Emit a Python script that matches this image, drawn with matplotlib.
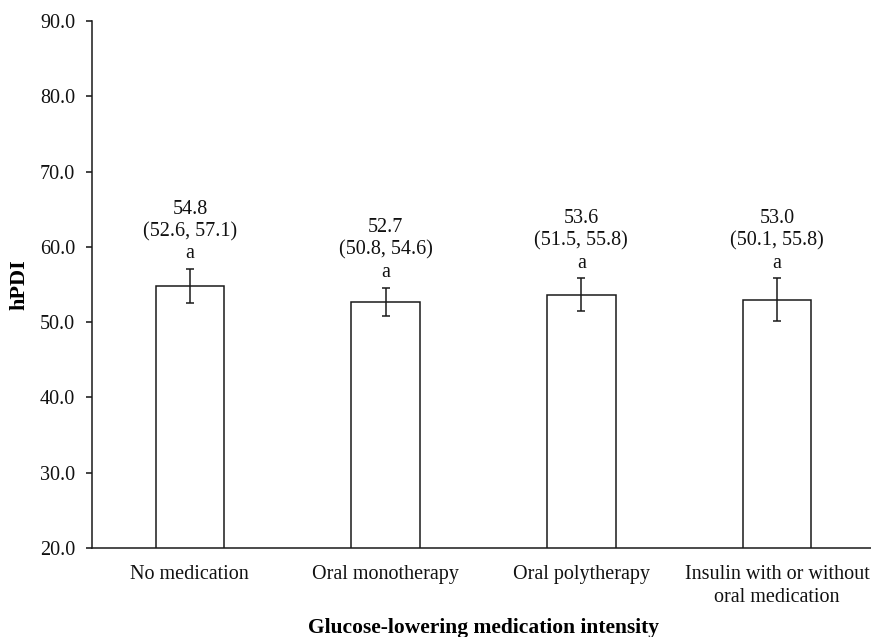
import numpy as np
import matplotlib
matplotlib.use('Agg')
import matplotlib.pyplot as plt

categories = ['No medication', 'Oral monotherapy', 'Oral polytherapy',
              'Insulin with or without\noral medication']
means = [54.8, 52.7, 53.6, 53.0]
lower = [52.6, 50.8, 51.5, 50.1]
upper = [57.1, 54.6, 55.8, 55.8]
letters = ['a', 'a', 'a', 'a']
yticks = [20, 30, 40, 50, 60, 70, 80, 90]

plt.rcParams['font.family'] = ['Liberation Serif', 'DejaVu Serif']

fig = plt.figure(figsize=(8.71, 6.37), dpi=100)
ax = fig.add_axes([92 / 871, (637 - 548) / 637, (875 - 92) / 871, (548 - 21) / 637])

x = np.arange(len(categories))
means_a = np.array(means)
err = np.vstack([means_a - np.array(lower), np.array(upper) - means_a])

ax.bar(x, means, width=0.35, color='white', edgecolor='#1a1a1a', linewidth=1.1)
ax.errorbar(x, means, yerr=err, fmt='none', ecolor='#1a1a1a', elinewidth=1.1,
            capsize=3, capthick=1.1)

for xi, m, lo, hi, let in zip(x, means, lower, upper, letters):
    ax.annotate(f'{m:.1f}\n({lo:.1f}, {hi:.1f})\n{let}', xy=(xi, hi),
                xytext=(0, 4), textcoords='offset points', ha='center', va='bottom',
                fontsize=14.5, linespacing=1.22, color='#111111')

ax.set_xlim(-0.5, 3.5)
ax.set_ylim(20, 90)
ax.set_yticks(yticks)
ax.set_yticklabels([f'{v:.1f}' for v in yticks])
ax.set_xticks(x)
ax.set_xticklabels(categories, linespacing=1.3)

ax.tick_params(axis='y', direction='out', length=4, width=1.1, pad=8,
               labelsize=14.5, colors='#111111')
ax.tick_params(axis='x', length=0, pad=12, labelsize=14.5, colors='#111111')

for s in ['top', 'right']:
    ax.spines[s].set_visible(False)
for s in ['left', 'bottom']:
    ax.spines[s].set_linewidth(1.1)
    ax.spines[s].set_color('#1a1a1a')

ax.set_ylabel('hPDI', fontsize=16, fontweight='bold', labelpad=8)
ax.set_xlabel('Glucose-lowering medication intensity', fontsize=15.5,
              fontweight='bold', labelpad=8)

fig.savefig('out.png', dpi=100)
